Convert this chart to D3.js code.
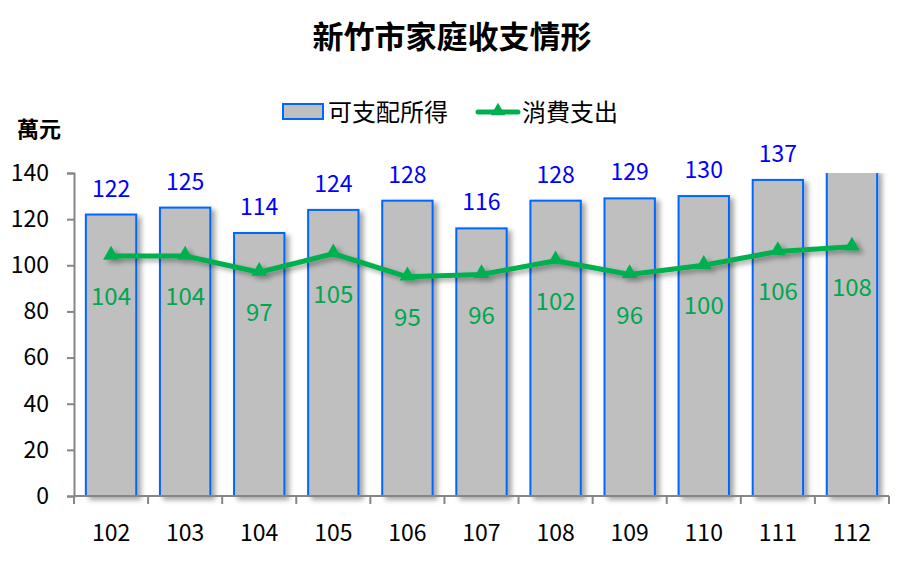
<!DOCTYPE html>
<html>
<head>
<meta charset="utf-8">
<script src="https://cdn.jsdelivr.net/npm/d3@7"></script>
<style>
  body { margin: 0; background: #fff; }
  svg text { font-family: "Noto Sans CJK TC", "Noto Sans", sans-serif; }
</style>
</head>
<body>
<svg id="chart" width="899" height="565"></svg>
<script>
// chart data
const years = ["102", "103", "104", "105", "106", "107", "108", "109", "110", "111", "112"];
const income = [122, 125, 114, 124, 128, 116, 128, 129, 130, 137, 142];
const spending = [104, 104, 97, 105, 95, 96, 102, 96, 100, 106, 108];
const yTicks = [0, 20, 40, 60, 80, 100, 120, 140];

const width = 899, height = 565;
const margin = {top: 173, right: 10, bottom: 69, left: 74};
const plotW = width - margin.left - margin.right;
const plotH = height - margin.top - margin.bottom;

const svg = d3.select("#chart");

const defs = svg.append("defs");
const shadow = defs.append("filter").attr("id", "shadow")
    .attr("x", "-20%").attr("y", "-20%").attr("width", "150%").attr("height", "150%");
shadow.append("feDropShadow")
    .attr("dx", 4).attr("dy", 3).attr("stdDeviation", 2.5)
    .attr("flood-color", "#000").attr("flood-opacity", 0.35);
defs.append("clipPath").attr("id", "plotclip")
    .append("rect").attr("x", -10).attr("y", 0).attr("width", plotW + 20).attr("height", plotH + 10);

const x = d3.scaleBand().domain(years).range([0, plotW]).paddingInner(0.32).paddingOuter(0.16);
const xc = d3.scaleBand().domain(years).range([0, plotW]);
const y = d3.scaleLinear().domain([0, 140]).range([plotH, 0]);

// title
svg.append("text")
    .attr("x", 452).attr("y", 48)
    .attr("text-anchor", "middle")
    .attr("font-size", 31).attr("font-weight", "bold")
    .text("新竹市家庭收支情形");

// unit label
svg.append("text")
    .attr("x", 17).attr("y", 137)
    .attr("font-size", 22).attr("font-weight", "bold")
    .text("萬元");

// legend
const legend = svg.append("g");
legend.append("rect").attr("x", 283).attr("y", 104).attr("width", 40).attr("height", 15)
    .attr("fill", "#bfbfbf").attr("stroke", "#0066ff").attr("stroke-width", 2);
legend.append("text").attr("x", 328).attr("y", 121).attr("font-size", 24).text("可支配所得");
legend.append("line").attr("x1", 478).attr("x2", 518).attr("y1", 112).attr("y2", 112)
    .attr("stroke", "#00b050").attr("stroke-width", 5).attr("stroke-linecap", "round");
legend.append("path").attr("d", d3.symbol(d3.symbolTriangle, 90)())
    .attr("transform", "translate(498,111)").attr("fill", "#00b050");
legend.append("text").attr("x", 522).attr("y", 121).attr("font-size", 24).text("消費支出");

const g = svg.append("g").attr("transform", `translate(${margin.left},${margin.top})`);

// bars
const bars = g.append("g").attr("clip-path", "url(#plotclip)");
bars.selectAll("rect")
    .data(years.map((d, i) => ({year: d, v: income[i]})))
    .join("rect")
    .attr("x", d => x(d.year))
    .attr("y", d => y(Math.min(d.v, 141)))
    .attr("width", x.bandwidth())
    .attr("height", d => y(0) - y(Math.min(d.v, 141)))
    .attr("fill", "#bfbfbf")
    .attr("stroke", "#0066ff")
    .attr("stroke-width", 2)
    .attr("filter", "url(#shadow)");

// bar labels (only values inside the axis range)
g.append("g").selectAll("text")
    .data(years.map((d, i) => ({year: d, v: income[i]})).filter(d => d.v <= 140))
    .join("text")
    .attr("x", d => x(d.year) + x.bandwidth() / 2)
    .attr("y", d => y(d.v) - 18)
    .attr("text-anchor", "middle")
    .attr("font-size", 23)
    .attr("fill", "#0000ff")
    .text(d => d.v);

// y axis
const yAxis = g.append("g")
    .call(d3.axisLeft(y).tickValues(yTicks).tickSize(7).tickPadding(18));
yAxis.selectAll("text").attr("font-size", 23).attr("fill", "#000");
yAxis.selectAll("line, path").attr("stroke", "#868686").attr("stroke-width", 2);

// x axis, ticks on category boundaries
const xAxis = g.append("g").attr("transform", `translate(0,${plotH})`);
xAxis.append("line").attr("x1", 0).attr("x2", plotW).attr("stroke", "#868686").attr("stroke-width", 2);
xAxis.selectAll("line.tick")
    .data(years.concat(["end"]))
    .join("line").attr("class", "tick")
    .attr("x1", (d, i) => i * xc.step()).attr("x2", (d, i) => i * xc.step())
    .attr("y1", 0).attr("y2", 8)
    .attr("stroke", "#868686").attr("stroke-width", 2);
xAxis.selectAll("text")
    .data(years)
    .join("text")
    .attr("x", d => xc(d) + xc.bandwidth() / 2)
    .attr("y", 45)
    .attr("text-anchor", "middle")
    .attr("font-size", 23)
    .text(d => d);

// spending line
const pts = years.map((d, i) => ({year: d, v: spending[i]}));
const lineG = g.append("g").attr("filter", "url(#shadow)");
lineG.append("path")
    .datum(pts)
    .attr("fill", "none")
    .attr("stroke", "#00b050")
    .attr("stroke-width", 5)
    .attr("stroke-linejoin", "round")
    .attr("d", d3.line().x(d => x(d.year) + x.bandwidth() / 2).y(d => y(d.v)));
lineG.selectAll("path.mark")
    .data(pts)
    .join("path").attr("class", "mark")
    .attr("d", d3.symbol(d3.symbolTriangle, 110)())
    .attr("transform", d => `translate(${x(d.year) + x.bandwidth() / 2},${y(d.v) - 1})`)
    .attr("fill", "#00b050");

// spending labels
g.append("g").selectAll("text")
    .data(pts)
    .join("text")
    .attr("x", d => x(d.year) + x.bandwidth() / 2)
    .attr("y", d => y(d.v) + 49)
    .attr("text-anchor", "middle")
    .attr("font-size", 24)
    .attr("fill", "#00a650")
    .text(d => d.v);
</script>
</body>
</html>
